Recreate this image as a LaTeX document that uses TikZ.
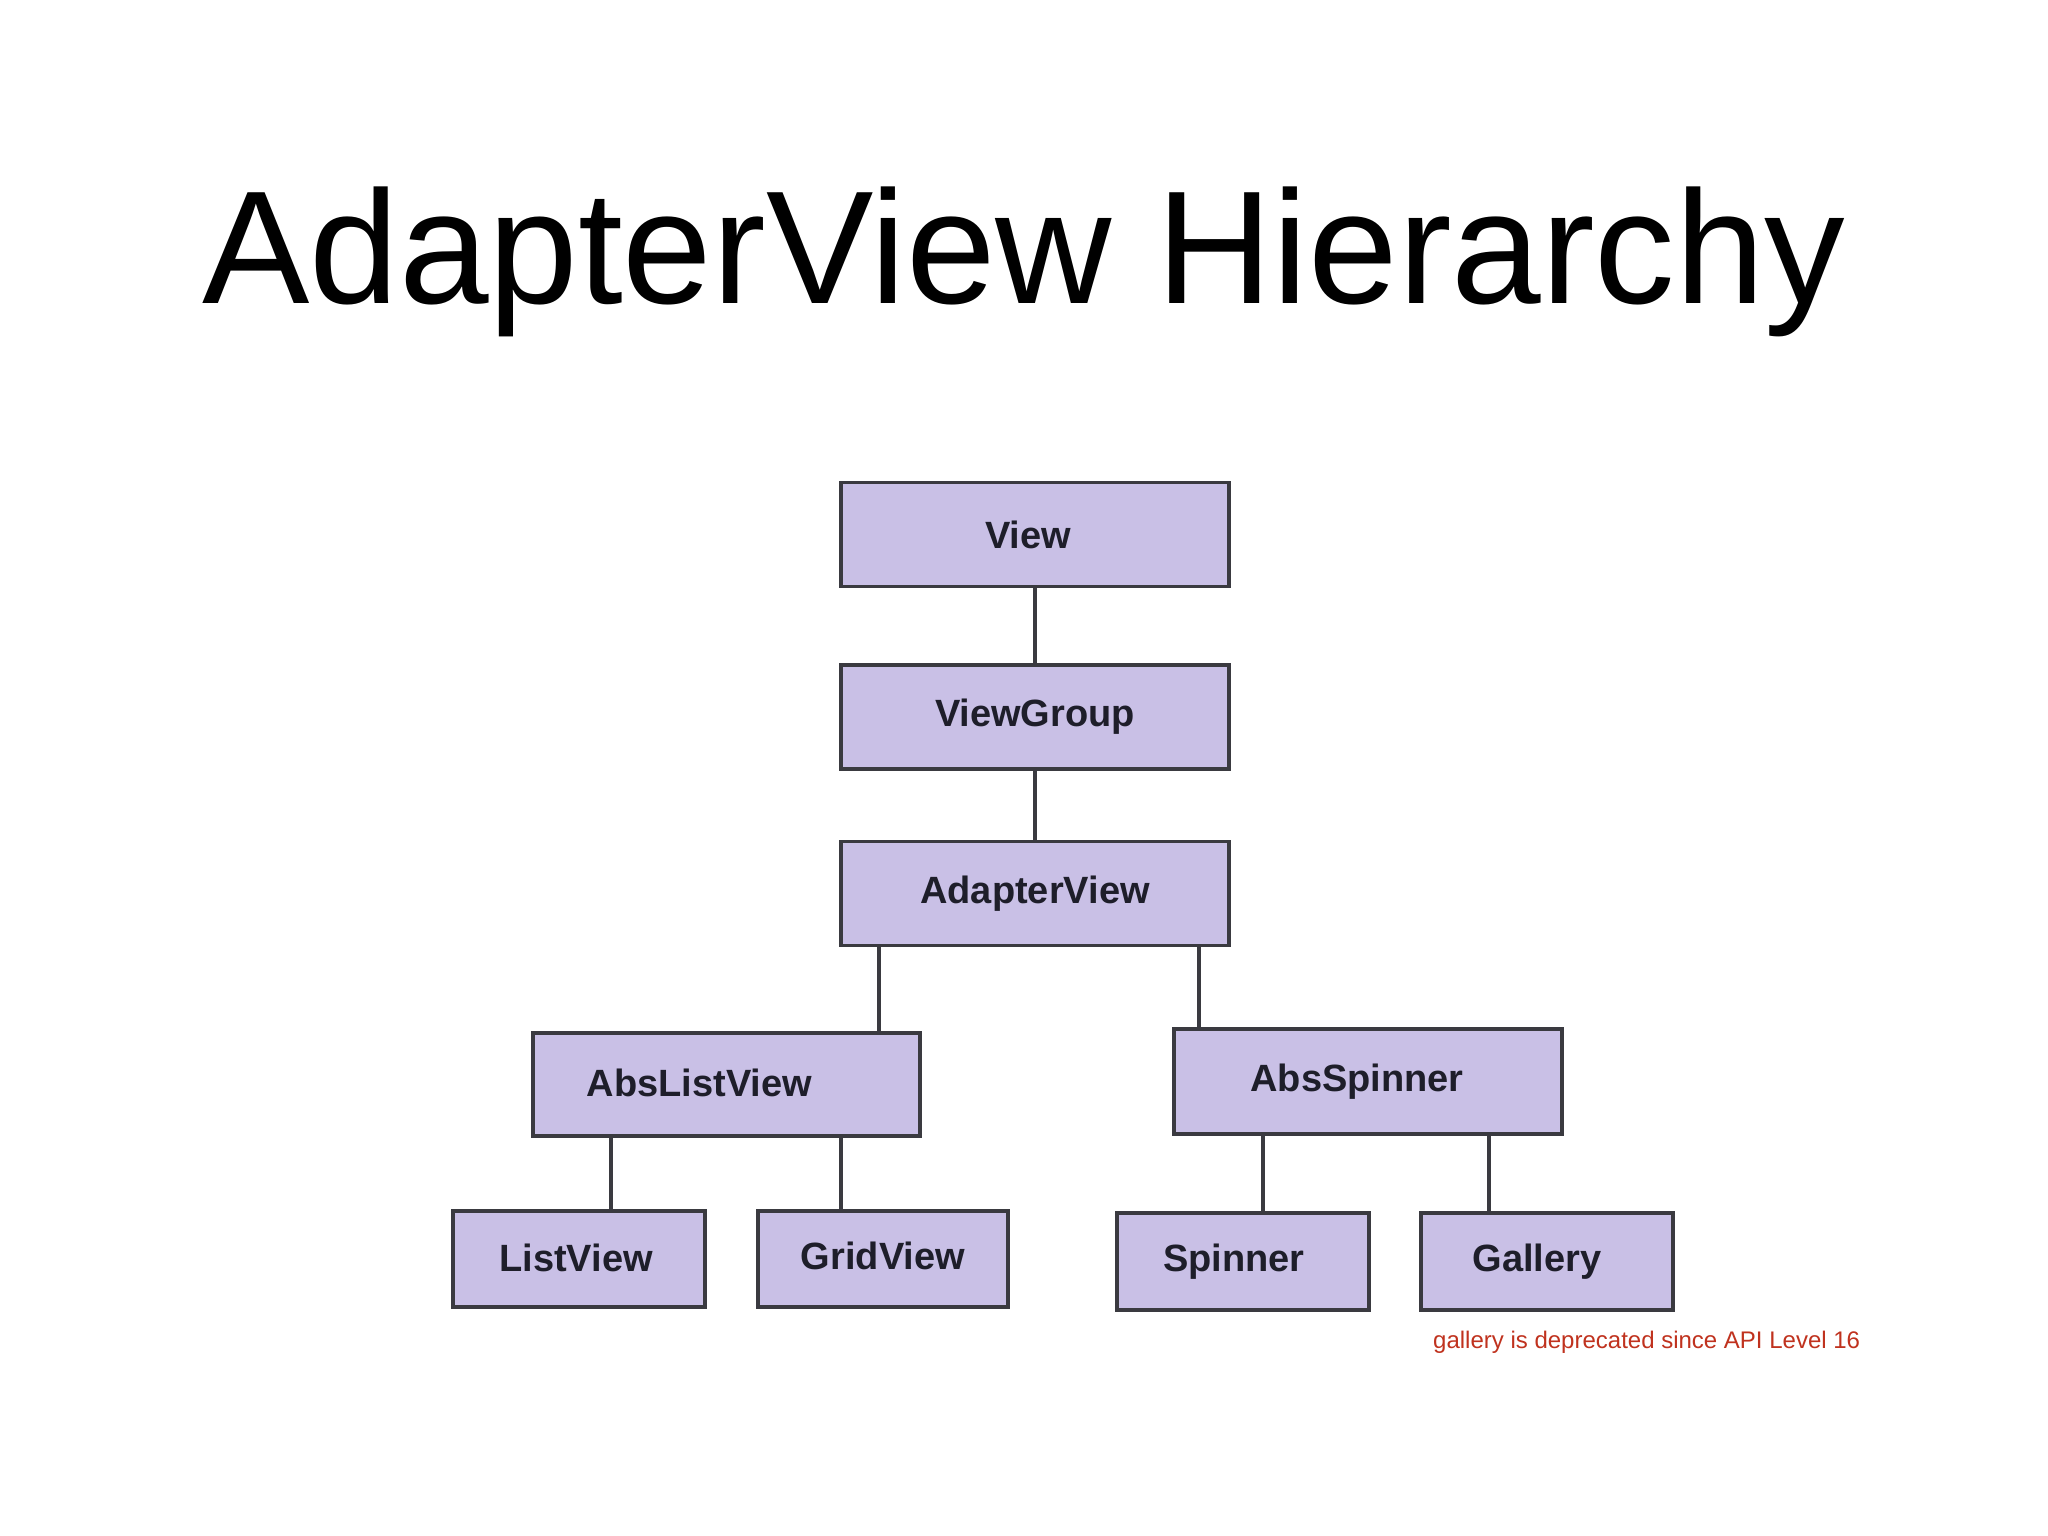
\documentclass[tikz,border=0pt]{standalone}
\usepackage{fontspec}
\setmainfont{Liberation Sans}
\definecolor{boxfill}{HTML}{C9C0E6}
\definecolor{boxline}{HTML}{3A3A40}
\definecolor{boxtext}{HTML}{1E1E2A}
\definecolor{notered}{HTML}{C0321E}
\begin{document}
\begin{tikzpicture}[x=1pt,y=-1pt,
  cls/.style={draw=boxline, fill=boxfill, line width=3.6pt, inner sep=0pt,
    text=boxtext, font=\fontsize{38}{44}\selectfont\bfseries},
  link/.style={draw=boxline, line width=3.6pt}]
\useasboundingbox (0,0) rectangle (2048,1536);
\fill[white] (0,0) rectangle (2048,1536);
\node[anchor=base, font=\fontsize{161}{190}\selectfont] (title) at (1024,303) {AdapterView Hierarchy};

\node[cls, minimum width=388pt, minimum height=104pt] (view) at (1035,534.5) {View\hspace*{14pt}};
\node[cls, minimum width=388pt, minimum height=104pt] (viewgroup) at (1035,717) {\raisebox{-5pt}{ViewGroup}};
\node[cls, minimum width=388pt, minimum height=104pt] (adapter) at (1035,893.5) {\raisebox{-3pt}{AdapterView}};
\node[cls, minimum width=387pt, minimum height=103pt] (abslist) at (726.5,1084.5) {\raisebox{3pt}{AbsListView}\hspace*{54pt}};
\node[cls, minimum width=388pt, minimum height=105pt] (absspin) at (1368,1081.5) {\raisebox{-2pt}{AbsSpinner}\hspace*{22pt}};
\node[cls, minimum width=252pt, minimum height=96pt] (listview) at (579,1259) {\raisebox{3pt}{ListView}\hspace*{6pt}};
\node[cls, minimum width=250pt, minimum height=96pt] (gridview) at (883,1259) {\raisebox{6pt}{GridView}};
\node[cls, minimum width=252pt, minimum height=97pt] (spinner) at (1243,1261.5) {\raisebox{-2pt}{Spinner}\hspace*{18pt}};
\node[cls, minimum width=252pt, minimum height=97pt] (gallery) at (1547,1261.5) {\raisebox{-2pt}{Gallery}\hspace*{20pt}};

\draw[link] (view.south) -- (viewgroup.north);
\draw[link] (viewgroup.south) -- (adapter.north);
\draw[link] ([xshift=-156pt]adapter.south) -- ([xshift=152.5pt]abslist.north);
\draw[link] ([xshift=164pt]adapter.south) -- ([xshift=-169pt]absspin.north);
\draw[link] ([xshift=-115.5pt]abslist.south) -- ([xshift=32pt]listview.north);
\draw[link] ([xshift=114.5pt]abslist.south) -- ([xshift=-42pt]gridview.north);
\draw[link] ([xshift=-105pt]absspin.south) -- ([xshift=20pt]spinner.north);
\draw[link] ([xshift=121pt]absspin.south) -- ([xshift=-58pt]gallery.north);

\node[anchor=base west, text=notered, font=\fontsize{24}{28}\selectfont, inner sep=0pt] (note) at (1433,1348) {gallery is deprecated since API Level 16};
\end{tikzpicture}
\end{document}
